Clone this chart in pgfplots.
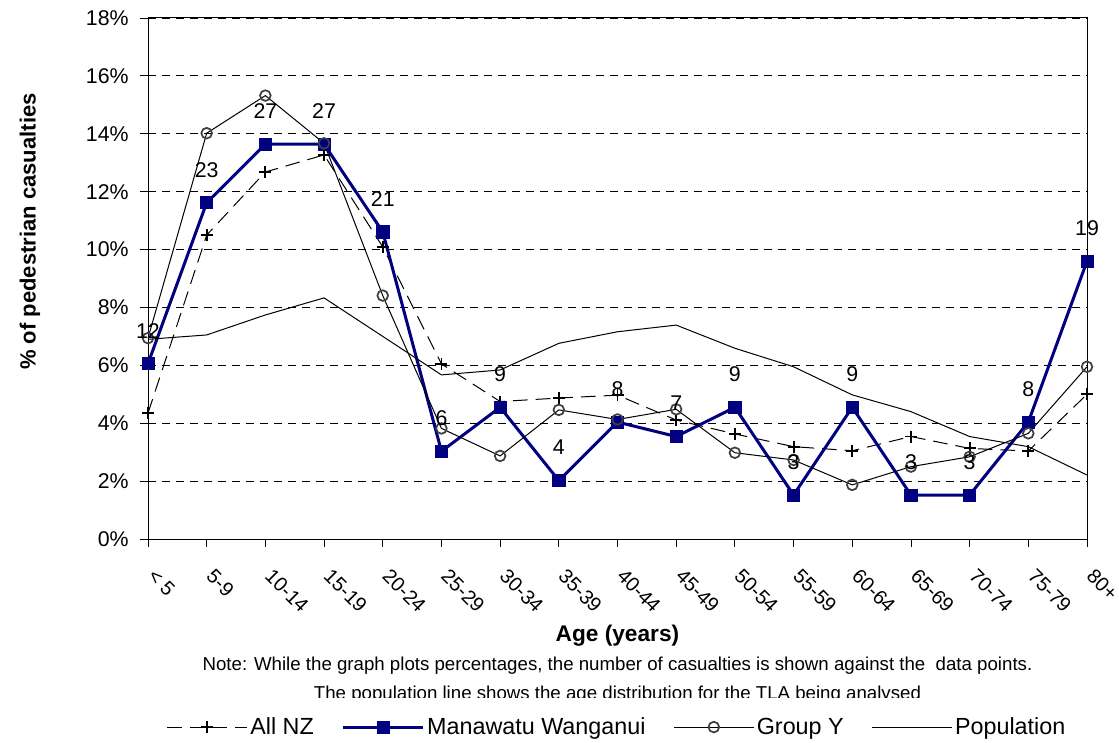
\documentclass[border=0pt]{standalone}
\usepackage{fontspec}
\setmainfont{Liberation Sans}
\usepackage{pgfplots}
\pgfplotsset{compat=1.18}
\definecolor{navyblue}{RGB}{0,0,128}
\definecolor{circgray}{RGB}{64,64,64}
\begin{document}
\begin{tikzpicture}
\begin{axis}[
    name=ax,
    scale only axis,
    width=704.25pt, height=390.75pt,
    xmin=0, xmax=16, ymin=0, ymax=18,
    clip=false,
    xtick={0,...,16},
    xticklabels={< 5,5-9,10-14,15-19,20-24,25-29,30-34,35-39,40-44,45-49,50-54,55-59,60-64,65-69,70-74,75-79,80+},
    ytick={0,2,...,18},
    yticklabel={\pgfmathprintnumber{\tick}\%},
    /pgf/number format/assume math mode=true,
    tick pos=left,
    tick align=outside,
    major tick length=6pt,
    tick style={black, line width=0.6pt},
    axis line style={black, line width=0.75pt},
    ymajorgrids,
    major grid style={black, line width=0.6pt, dash pattern=on 6pt off 4.5pt},
    xticklabel style={font=\fontsize{15}{18}\selectfont, rotate=-45, anchor=north west, xshift=12pt, yshift=-3pt},
    yticklabel style={font=\fontsize{16}{19}\selectfont, xshift=-5pt},
    legend columns=4,
    legend style={at={(0.5,-0.361)}, anchor=center, draw=none, fill=none,
        font=\fontsize{17.5}{21}\selectfont,
        /tikz/every even column/.append style={column sep=19pt}},
    legend image code/.code={\draw[mark repeat=2,mark phase=2] plot coordinates {(0cm,0cm) (1.05cm,0cm) (2.1cm,0cm)};},
]
% All NZ
\addplot[black, line width=0.75pt, dash pattern=on 11pt off 6pt, mark=+, mark size=4.5pt,
    mark options={solid, line width=1.4pt}] coordinates {
(0,4.35) (1,10.5) (2,12.68) (3,13.27) (4,10.09) (5,6.05) (6,4.75) (7,4.87) (8,4.97)
(9,4.11) (10,3.63) (11,3.19) (12,3.05) (13,3.54) (14,3.13) (15,3.04) (16,5.0)};
\addlegendentry{All NZ}
% Manawatu Wanganui
\addplot[navyblue, line width=2.25pt, mark=square*, mark size=4.6pt,
    mark options={solid, line width=0.5pt}] coordinates {
(0,6.06) (1,11.62) (2,13.64) (3,13.64) (4,10.61) (5,3.03) (6,4.55) (7,2.02) (8,4.04)
(9,3.54) (10,4.55) (11,1.52) (12,4.55) (13,1.52) (14,1.52) (15,4.04) (16,9.60)};
\addlegendentry{Manawatu Wanganui}
% Group Y
\addplot[black, line width=0.75pt, mark=o, mark size=4pt,
    mark options={draw=circgray, line width=1.3pt}] coordinates {
(0,6.94) (1,14.02) (2,15.32) (3,13.67) (4,8.41) (5,3.82) (6,2.87) (7,4.46) (8,4.13)
(9,4.48) (10,2.98) (11,2.73) (12,1.87) (13,2.50) (14,2.84) (15,3.65) (16,5.95)};
\addlegendentry{Group Y}
% Population
\addplot[black, line width=0.75pt, mark=none] coordinates {
(0,6.9) (1,7.05) (2,7.74) (3,8.33) (4,7.0) (5,5.67) (6,5.84) (7,6.76) (8,7.16)
(9,7.39) (10,6.59) (11,5.95) (12,4.98) (13,4.40) (14,3.54) (15,3.19) (16,2.21)};
\addlegendentry{Population}
% casualty counts
\addplot[draw=none, mark=none, forget plot, point meta=explicit symbolic,
    nodes near coords,
    nodes near coords style={anchor=center, yshift=24.75pt, font=\fontsize{16}{19}\selectfont, text=black}]
    coordinates {
(0,6.06)[12] (1,11.62)[23] (2,13.64)[27] (3,13.64)[27] (4,10.61)[21] (5,3.03)[6]
(6,4.55)[9] (7,2.02)[4] (8,4.04)[8] (9,3.54)[7] (10,4.55)[9] (11,1.52)[3]
(12,4.55)[9] (13,1.52)[3] (14,1.52)[3] (15,4.04)[8] (16,9.60)[19]};
\end{axis}
\node[font=\bfseries\fontsize{17}{20}\selectfont] at ([shift={(352.1pt,-72.75pt)}]ax.south west) {Age (years)};
\node[font=\bfseries\fontsize{16.5}{20}\selectfont, rotate=90] at ([shift={(-88.5pt,230.6pt)}]ax.south west) {\% of pedestrian casualties};
\node[font=\fontsize{14}{17}\selectfont] at ([shift={(352.1pt,-95.25pt)}]ax.south west) {Note: While the graph plots percentages, the number of casualties is shown against the \ data points.};
\begin{scope}
\clip ([shift={(0pt,-118.5pt)}]ax.south west) rectangle ([shift={(704.25pt,-100pt)}]ax.south west);
\node[font=\fontsize{14}{17}\selectfont] at ([shift={(352.1pt,-116.5pt)}]ax.south west) {The population line shows the age distribution for the TLA being analysed};
\end{scope}
\pgfresetboundingbox
\path ([shift={(-111pt,-152.25pt)}]ax.south west) rectangle ([shift={(24pt,13.5pt)}]ax.north east);
\end{tikzpicture}
\end{document}
